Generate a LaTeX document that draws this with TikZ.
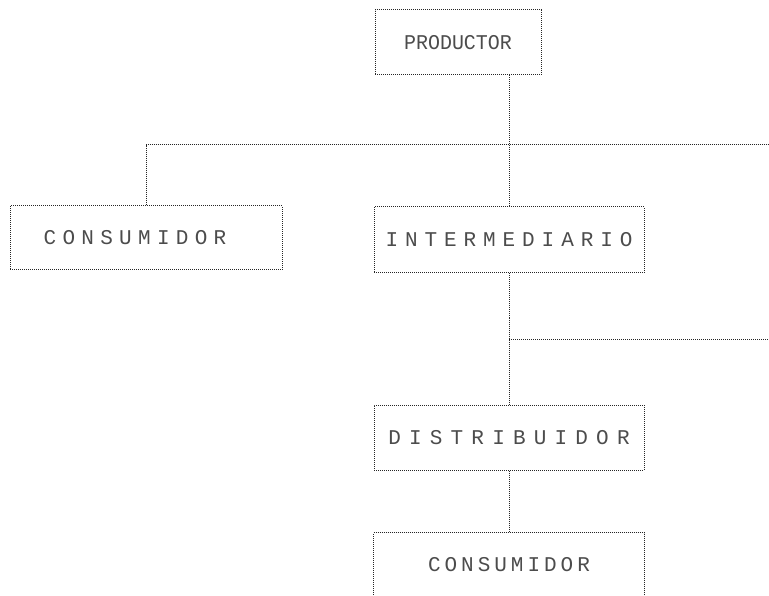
\documentclass[tikz,border=0pt]{standalone}
\usepackage{fontspec}
\setmonofont{Liberation Mono}
\newcommand{\spaced}[2]{{\addfontfeatures{LetterSpace=#1}#2}}
\begin{document}
\begin{tikzpicture}[x=1pt, y=-1pt, line width=1pt]
\tikzset{
	box/.style={draw=black!85, densely dotted, minimum width=270pt, minimum height=65pt, inner sep=0pt, font=\ttfamily\fontsize{21}{21}\selectfont, text=black!70},
	link/.style={draw=black!85, densely dotted}
}
\useasboundingbox (0,0) rectangle (769,596);

% Boxes, top to bottom
\node[box, minimum width=166pt] (prod) at (458,42.5) {{\addfontfeatures{FakeStretch=0.95}PRODUCTOR}};
\node[box, minimum width=272pt, minimum height=64pt] (cons1) at (146,238) {\spaced{30}{CONSUMIDOR}\hspace*{22pt}};
\node[box, minimum height=66pt] (inter) at (509,240) {\spaced{33}{INTERMEDIARIO}};
\node[box] (distr) at (509,437.5) {\spaced{39}{DISTRIBUIDOR}};
\node[box, draw=none, minimum height=63pt] (cons2) at (509,564.5) {\spaced{19}{CONSUMIDOR}};
\draw[link] (cons2.south west) |- (cons2.north east) -- (cons2.south east);

% Branch points and open ends
\coordinate (j1) at (inter.north |- 0,145);
\coordinate (e1) at (769,145);
\coordinate (j2) at (inter.south |- 0,339);
\coordinate (e2) at (769,339);

% Connectors
\draw[link] (prod.south -| inter.north) -- (inter.north);
\draw[link] (cons1.north) |- (e1);
\draw[link] (inter.south) -- (distr.north);
\draw[link] (j2) -- (e2);
\draw[link] (distr.south) -- (cons2.north);

\end{tikzpicture}
\end{document}
